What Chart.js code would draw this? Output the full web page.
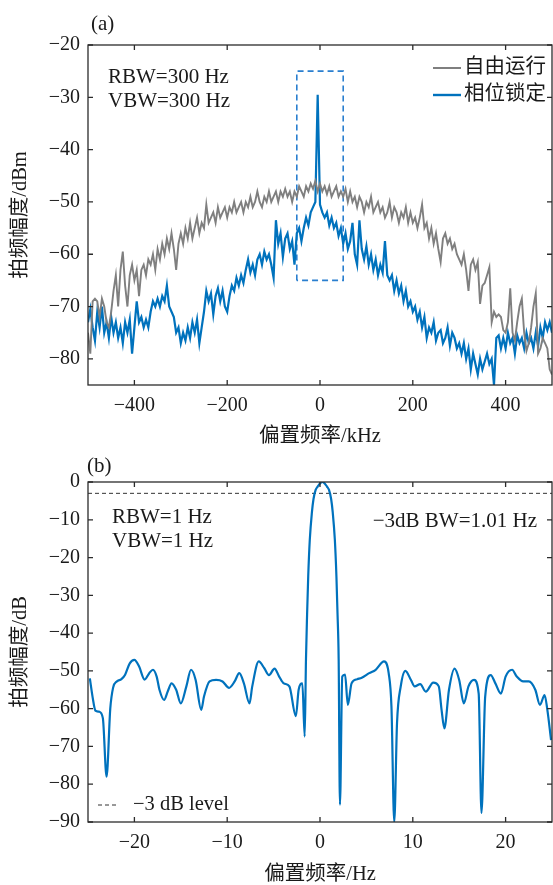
<!DOCTYPE html>
<html>
<head>
<meta charset="utf-8">
<script src="https://cdn.jsdelivr.net/npm/chart.js@4.4.0/dist/chart.umd.min.js"></script>
<style>
  html, body { margin: 0; padding: 0; background: #fff; }
  #wrap { position: relative; width: 553px; height: 885px; }
  canvas { position: absolute; left: 0; }
  #chartA { top: 0; }
  #chartB { top: 445px; }
</style>
</head>
<body>
<div id="wrap">
  <canvas id="chartA" width="553" height="445"></canvas>
  <canvas id="chartB" width="553" height="440"></canvas>
</div>
<script>
// ---- data, panel (a): beat spectrum, offset in kHz, sampled every 5 kHz from -500 ----
const offsetStartKHz = -500;
const offsetStepKHz = 5;

const freeRunning = [
  -75, -79, -69, -68.5, -69, -72, -68.5, -70, -73, -74,
  -71, -67, -64, -70, -63, -59.5, -66, -70, -64, -62,
  -65, -63, -68, -63, -62, -64, -61, -62, -60, -63,
  -59, -61, -58, -60, -57, -59, -56, -59, -63, -58,
  -56, -58, -55, -57, -54, -57, -55, -53, -56, -54,
  -55, -50.5, -54, -53, -52, -54, -51, -53, -52, -51,
  -53, -51, -52, -50, -52, -51, -50, -52, -50, -51,
  -49, -51, -50, -48, -50, -51, -49, -50, -48, -50,
  -49, -48, -50, -48, -49, -47.5, -49, -48, -50, -48,
  -49, -47, -48, -49, -47, -48, -46.5, -47.5, -46, -48,
  -46.5, -48, -47, -48.5, -47, -49, -48, -47, -49, -48,
  -49, -47.5, -50, -48, -50, -49, -51, -49, -50, -52,
  -50, -51, -49, -52, -51, -50, -52, -51, -53, -52,
  -50, -53, -51, -52, -54, -52, -53, -51, -54, -52,
  -54, -53, -55, -53, -50.5, -55, -54, -57, -55, -58,
  -56, -59, -61.5, -57, -56, -58, -57, -59, -58, -60,
  -61, -62, -60, -63, -67, -62, -61, -63, -61.5, -69.5,
  -66, -65.5, -64, -62.5, -73, -71, -72, -71.5, -72, -74.5,
  -75, -73, -66.5, -75, -76.5, -73, -70, -68.5, -75, -78.5,
  -77, -74, -70, -67.5, -79, -78, -76, -77, -78, -82,
  -83
];

const phaseLocked = [
  -73, -70.5, -74, -76.5, -71, -74, -70, -75, -73, -76,
  -72, -75, -73, -76, -74, -77, -73, -75, -72.5, -79,
  -74, -69, -73, -72, -74, -72.5, -74, -71, -69, -70,
  -68.5, -70, -68, -69, -66, -70, -71, -72, -75, -74,
  -77, -75, -76.5, -74, -76, -73, -75, -72.5, -77, -74,
  -71, -67, -69, -67.5, -71.5, -68, -66.5, -69, -67, -70,
  -71, -68, -66, -67, -64.5, -66, -64, -65.5, -63, -61,
  -63.5, -62, -64, -61, -60, -62, -59.5, -61, -60, -62,
  -64.5, -53.5, -58, -56, -60.5, -57, -56, -59, -57.5, -62,
  -56, -55, -57.5, -55, -53, -54.5, -52, -51, -50, -29.5,
  -50.5, -52, -53, -52, -54.5, -53, -55, -54, -56.5, -55,
  -58, -56, -59, -57.5, -54, -60, -62, -53.5, -59, -61,
  -58.5, -62, -60, -63, -61, -64, -62, -63.5, -57.5, -64,
  -65, -64, -67, -65, -67.5, -66, -69, -67, -70, -69,
  -71, -70, -72.5, -71, -74, -72, -76, -74, -75, -73,
  -76.5, -75, -74.5, -77, -76, -74, -77.5, -75, -76, -78,
  -77, -79, -77, -80, -78, -82, -79, -81, -83, -80,
  -82, -80.5, -79, -81, -80, -85, -76, -75.5, -78, -76,
  -78, -75, -77, -76, -79, -75.5, -77, -76, -78, -75,
  -77, -76, -78, -75, -77.5, -74, -76, -73, -74.5, -73,
  -75
];

// zoom window drawn around the carrier
const zoomBoxX = [-50, -50, 50, 50, -50];
const zoomBoxY = [-65, -25, -25, -65, -65];

const xTicksA = [-400, -200, 0, 200, 400];
const yTicksA = [-20, -30, -40, -50, -60, -70, -80];

// ---- data, panel (b): narrow span around the carrier, offset in Hz ----
const offsetHz = [
  -24.8, -24.5, -24.2, -23.8, -23.4, -23.0, -22.6, -22.3, -21.9, -21.4,
  -21.0, -20.5, -20.0, -19.5, -18.9, -18.4, -18.0, -17.6, -17.3, -16.8,
  -16.4, -16.0, -15.5, -15.0, -14.4, -13.9, -13.4, -12.8, -12.5, -11.9,
  -11.2, -10.5, -9.8, -9.2, -8.7, -8.2, -7.6, -7.3, -6.6, -6.0,
  -5.5, -4.9, -4.4, -3.9, -3.3, -2.6, -2.3, -1.9, -1.65, -1.51,
  -1.39, -1.27, -1.1, -0.87, -0.7, -0.47, -0.25, -0.05, 0.25, 0.55,
  0.75, 0.97, 1.2, 1.37, 1.6, 1.77, 1.89, 2.01, 2.15, 2.4,
  2.7, 3.0, 3.4, 4.0, 4.5, 5.3, 6.0,
  6.9, 7.4, 7.7, 8.0, 8.3, 8.7, 9.2, 9.8, 10.2, 10.8,
  11.4, 12.2, 12.8, 13.1, 13.4, 13.9, 14.5, 15.0, 15.5, 16.0,
  16.6, 17.1, 17.4, 17.8, 18.4, 18.9, 19.5, 20.0, 20.7, 21.2,
  21.9, 22.5, 23.2, 23.7, 24.2, 24.5, 24.9
];
const beatLevelDb = [
  -52, -57, -60.5, -60.8, -62.5, -78, -60, -54.5, -52.8, -52.2,
  -51, -48, -47.1, -48.8, -52.3, -50.6, -49.7, -51.5, -55, -57.7,
  -55.4, -53.3, -55, -58.6, -54.1, -49.7, -52.4, -60.3, -56.8, -52.8,
  -52.4, -52.8, -54.5, -52.8, -50.6, -53.3, -58.6, -54.1, -47.5, -49.3,
  -51.1, -49.4, -51.5, -53.3, -54.1, -62, -55, -53.3, -67.4, -46.8,
  -35, -25, -15.3, -8, -4.5, -2.1, -1.2, -0.5, 0, -0.5,
  -1.2, -2.1, -4.5, -8, -15.3, -25, -35, -46.8, -85.4, -51.5,
  -51, -59, -53.3, -52.2, -51.8, -50.6, -49.7,
  -47.5, -50.6, -59.5, -90, -63.8, -54.1, -50, -52.4, -54.1, -53.5,
  -55.5, -53.1, -54.1, -60.3, -65.2, -55, -49.4, -52.4, -58.6, -54.1,
  -52.4, -56, -87.6, -56.8, -51.1, -53.3, -56, -51.5, -49.7, -51.5,
  -52.8, -52.8, -55, -59, -56.4, -60.3, -68.3
];
const levelLineX = [-25, 25];
const levelLineY = [-3, -3];

const xTicksB = [-20, -10, 0, 10, 20];
const yTicksB = [0, -10, -20, -30, -40, -50, -60, -70, -80, -90];

// ---- styling ----
const SERIF = '"Liberation Serif", "Times New Roman", serif';
const MIXED = '"Liberation Serif", "Noto Sans CJK SC", serif';
const TEXT_COLOR = '#1a1a1a';
const AXIS_COLOR = '#2b2b2b';
const GRAY = '#7f7f7f';
const BLUE = '#0072bd';
const TICK_LEN = 5;

Chart.defaults.font.family = SERIF;
Chart.defaults.font.size = 20;
Chart.defaults.color = TEXT_COLOR;

function toPoints(xs, ys) {
  return ys.map((v, i) => ({ x: xs[i], y: v }));
}
function sampled(start, step, ys) {
  return ys.map((v, i) => ({ x: start + i * step, y: v }));
}
function minusLabel(v) {
  return String(v).replace('-', '\u2212');
}

// draws the closed frame, inward ticks on all four sides, notes and keys
const framePlugin = {
  id: 'framePlugin',
  afterDatasetsDraw(chart, args, opts) {
    const { ctx, chartArea: a, scales: { x, y } } = chart;
    ctx.save();
    ctx.strokeStyle = AXIS_COLOR;
    ctx.lineWidth = 1.3;
    ctx.strokeRect(a.left, a.top, a.right - a.left, a.bottom - a.top);
    ctx.beginPath();
    x.ticks.forEach(t => {
      const px = x.getPixelForValue(t.value);
      ctx.moveTo(px, a.bottom); ctx.lineTo(px, a.bottom - TICK_LEN);
      ctx.moveTo(px, a.top); ctx.lineTo(px, a.top + TICK_LEN);
    });
    y.ticks.forEach(t => {
      const py = y.getPixelForValue(t.value);
      ctx.moveTo(a.left, py); ctx.lineTo(a.left + TICK_LEN, py);
      ctx.moveTo(a.right, py); ctx.lineTo(a.right - TICK_LEN, py);
    });
    ctx.stroke();

    ctx.fillStyle = TEXT_COLOR;
    ctx.textBaseline = 'middle';
    (opts.notes || []).forEach(n => {
      ctx.font = '21px ' + SERIF;
      ctx.textAlign = n.align || 'left';
      ctx.fillText(n.text, n.x, n.y);
    });
    (opts.keys || []).forEach(k => {
      ctx.strokeStyle = k.color;
      ctx.lineWidth = k.width;
      ctx.setLineDash(k.dash || []);
      ctx.beginPath();
      ctx.moveTo(k.x, k.y);
      ctx.lineTo(k.x + k.len, k.y);
      ctx.stroke();
      ctx.setLineDash([]);
      ctx.font = '20.5px ' + MIXED;
      ctx.textAlign = 'left';
      ctx.fillText(k.text, k.x + k.len + k.gap, k.y);
    });
    ctx.restore();
  }
};

function axes(xMin, xMax, yMin, yMax, xTicks, yTicks, xTitle, yTitle, xHeight, titleLH) {
  return {
    x: {
      type: 'linear', min: xMin, max: xMax,
      grid: { display: false, drawTicks: false },
      border: { display: false },
      afterBuildTicks: s => { s.ticks = xTicks.map(v => ({ value: v })); },
      afterFit: s => { s.height = xHeight; },
      ticks: { padding: 9, callback: minusLabel, maxRotation: 0 },
      title: {
        display: true, text: xTitle,
        font: { family: MIXED, size: 20.5, lineHeight: titleLH },
        padding: { top: 0, bottom: 0 }
      }
    },
    y: {
      type: 'linear', min: yMin, max: yMax,
      grid: { display: false, drawTicks: false },
      border: { display: false },
      afterBuildTicks: s => { s.ticks = yTicks.map(v => ({ value: v })); },
      afterFit: s => { s.width = 88; },
      ticks: { padding: 8, callback: minusLabel },
      title: {
        display: true, text: yTitle,
        font: { family: MIXED, size: 20.5, lineHeight: 1 },
        padding: { top: 10, bottom: 0 }
      }
    }
  };
}

// ---- panel (a) ----
new Chart(document.getElementById('chartA'), {
  type: 'line',
  data: {
    datasets: [
      {
        label: '自由运行',
        data: sampled(offsetStartKHz, offsetStepKHz, freeRunning),
        borderColor: GRAY, borderWidth: 1.9, pointRadius: 0, tension: 0
      },
      {
        label: '相位锁定',
        data: sampled(offsetStartKHz, offsetStepKHz, phaseLocked),
        borderColor: BLUE, borderWidth: 2.2, pointRadius: 0, tension: 0
      },
      {
        label: 'zoom',
        data: toPoints(zoomBoxX, zoomBoxY),
        borderColor: '#2a7fcf', borderWidth: 1.6, borderDash: [6, 4],
        pointRadius: 0, tension: 0
      }
    ]
  },
  options: {
    responsive: false,
    animation: false,
    layout: { padding: { top: 45, right: 1, left: 0, bottom: 0 } },
    scales: axes(-500, 500, -85, -20, xTicksA, yTicksA, '偏置频率/kHz', '拍频幅度/dBm', 60, 0.8),
    plugins: {
      legend: { display: false },
      tooltip: { enabled: false },
      framePlugin: {
        notes: [
          { text: '(a)', x: 91, y: 24 },
          { text: 'RBW=300 Hz', x: 108, y: 77 },
          { text: 'VBW=300 Hz', x: 108, y: 101 }
        ],
        keys: [
          { text: '自由运行', color: GRAY, width: 2, x: 433, y: 68, len: 28, gap: 3 },
          { text: '相位锁定', color: BLUE, width: 2.4, x: 433, y: 95, len: 28, gap: 3 }
        ]
      }
    }
  },
  plugins: [framePlugin]
});

// ---- panel (b) ----
new Chart(document.getElementById('chartB'), {
  type: 'line',
  data: {
    datasets: [
      {
        label: 'beat',
        data: toPoints(offsetHz, beatLevelDb),
        borderColor: BLUE, borderWidth: 2.2, pointRadius: 0,
        cubicInterpolationMode: 'monotone'
      },
      {
        label: '−3 dB level',
        data: toPoints(levelLineX, levelLineY),
        borderColor: '#333333', borderWidth: 1, borderDash: [4, 3],
        pointRadius: 0, tension: 0
      }
    ]
  },
  options: {
    responsive: false,
    animation: false,
    layout: { padding: { top: 37, right: 1, left: 0, bottom: 0 } },
    scales: axes(-25, 25, -90, 0, xTicksB, yTicksB, '偏置频率/Hz', '拍频幅度/dB', 63, 1),
    plugins: {
      legend: { display: false },
      tooltip: { enabled: false },
      framePlugin: {
        notes: [
          { text: '(b)', x: 87, y: 21 },
          { text: 'RBW=1 Hz', x: 112, y: 72 },
          { text: 'VBW=1 Hz', x: 112, y: 96 },
          { text: '\u22123dB BW=1.01 Hz', x: 537, y: 76, align: 'right' }
        ],
        keys: [
          { text: '\u22123 dB level', color: '#333333', width: 1, dash: [4, 3], x: 98, y: 360, len: 20, gap: 15 }
        ]
      }
    }
  },
  plugins: [framePlugin]
});
</script>
</body>
</html>
